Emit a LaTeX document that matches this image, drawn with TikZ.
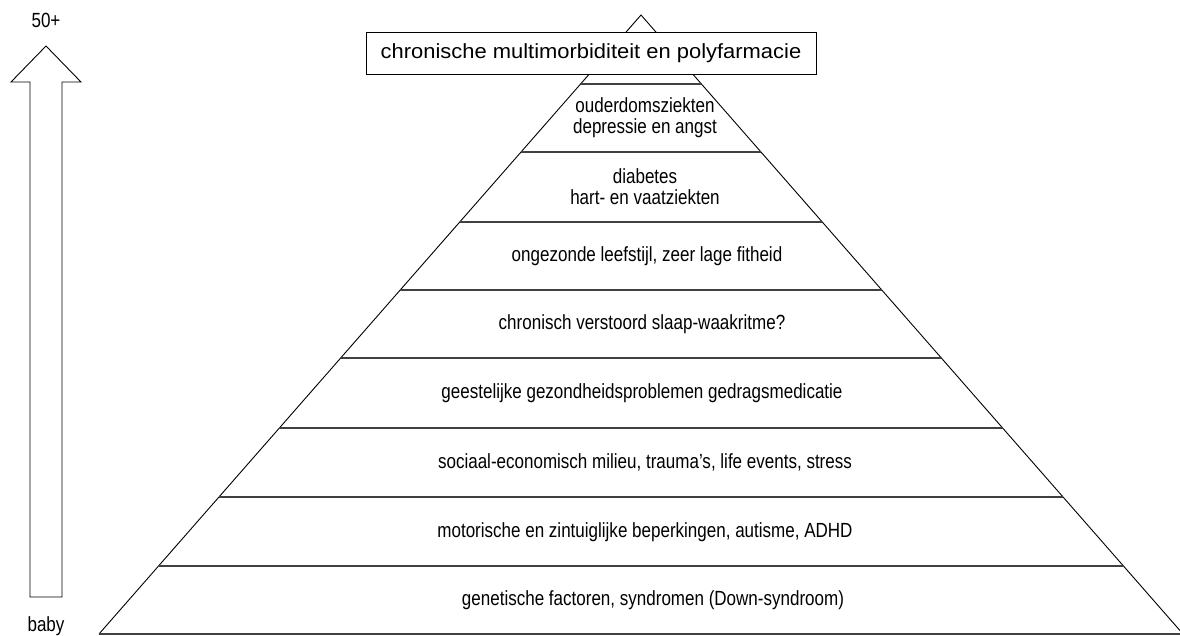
\documentclass[tikz,border=0pt]{standalone}
\usepackage{fontspec}
\setmainfont{Liberation Sans}
\newfontfamily\narrowsans[FakeStretch=0.83]{Liberation Sans}
\newfontfamily\widesans[FakeStretch=1.07]{Liberation Sans}
\usepackage{tikz}
\usetikzlibrary{positioning,calc}

\tikzset{
  band/.style={font=\narrowsans\fontsize{20.5}{21}\selectfont, align=center},
  tier/.style={draw=black!75, line width=1.4pt},
  side/.style={draw=black, line width=0.9pt}
}

\begin{document}
\begin{tikzpicture}[x=1pt, y=-1pt]
    \useasboundingbox (0,0) rectangle (1180,636);

    % pyramid
    \coordinate (top) at (641,15);
    \coordinate (bl) at ({641-619*0.8756},634);
    \coordinate (br) at ({641+619*0.8756},634);
    \draw[side] (bl) -- (top) -- (br);
    \foreach \y in {84,152,222,290,358,428,497,566}
        \draw[tier] ({641-(\y-15)*0.8756},\y) -- ({641+(\y-15)*0.8756},\y);
    \draw[tier] (bl) -- (br);

    % top box
    \node[band, font=\widesans\fontsize{20.5}{21}\selectfont, draw, fill=white, line width=0.9pt, minimum width=450pt, minimum height=42pt, inner sep=0pt] (chron) at (591,53) {\raisebox{-2pt}{chronische multimorbiditeit en polyfarmacie}};

    % bands
    \node[band] (ouder) at (645,118) {ouderdomsziekten\\depressie en angst};
    \node[band] (diab) at (645,187) {diabetes\\hart- en vaatziekten};
    \node[band] (leef) at (647,256) {ongezonde leefstijl, zeer lage fitheid};
    \node[band] (slaap) at (642,324) {chronisch verstoord slaap-waakritme?};
    \node[band] (geest) at (642,393) {geestelijke gezondheidsproblemen gedragsmedicatie};
    \node[band] (soc) at (645,462) {sociaal-economisch milieu, trauma’s, life events, stress};
    \node[band] (mot) at (645,532) {motorische en zintuiglijke beperkingen, autisme, ADHD};
    \node[band] (gen) at (653,600) {genetische factoren, syndromen (Down-syndroom)};

    % age arrow
    \draw[side] (30,597) -- (30,82) -- (11,82) -- (46,46) -- (81,82) -- (62,82) -- (62,597) -- cycle;
    \node[band] (old) at (46,20) {50+};
    \node[band] (baby) at (46,626) {baby};
\end{tikzpicture}
\end{document}
